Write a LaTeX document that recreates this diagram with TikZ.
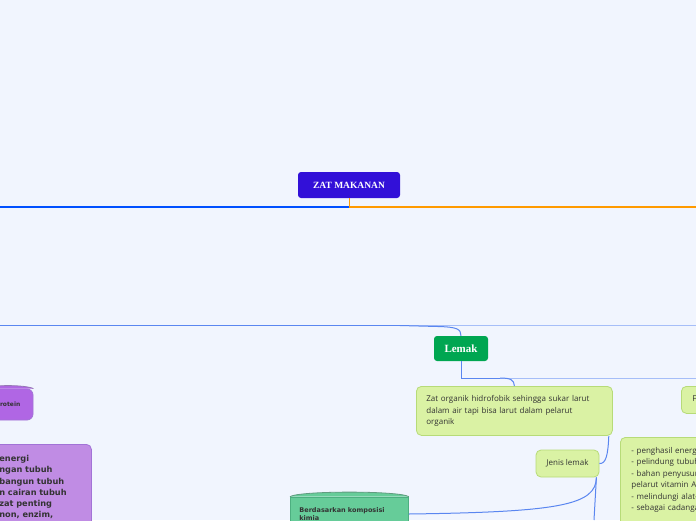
\documentclass[tikz,border=0pt]{standalone}
\usepackage{fontspec}
\setmainfont{Liberation Serif}
\newfontfamily\bodyfont{Open Sans}
\newfontfamily\boldfont{DejaVu Sans}
\definecolor{bgcol}{HTML}{F1F5FE}
\definecolor{titlecol}{HTML}{3210D8}
\definecolor{lemakcol}{HTML}{00A651}
\definecolor{leaffill}{HTML}{DAF2A4}
\definecolor{leafline}{HTML}{B7DB78}
\definecolor{protfill}{HTML}{B066E4}
\definecolor{protbox}{HTML}{C08CE4}
\definecolor{protline}{HTML}{A273D6}
\definecolor{kompfill}{HTML}{66CC99}
\definecolor{kompline}{HTML}{4DAF80}
\definecolor{mainblue}{HTML}{0050FF}
\definecolor{mainorange}{HTML}{FF9A00}
\definecolor{linkblue}{HTML}{5A86F0}
\definecolor{linkpale}{HTML}{A6BEF8}
\definecolor{textdark}{HTML}{333333}
\tikzset{
  topic/.style={rounded corners=3pt, text=white, font=\bfseries},
  leaf/.style={draw=leafline, fill=leaffill, rounded corners=5pt, line width=0.8pt,
    text=textdark, font=\bodyfont\fontsize{8}{11.6}\selectfont},
  link/.style={draw=linkblue, line width=1pt},
  palelink/.style={draw=linkpale, line width=1pt}
}
\begin{document}
\begin{tikzpicture}[x=1pt, y=-1pt]
  % Canvas
  \useasboundingbox (0,0) rectangle (696,520);
  \fill[bgcol] (0,0) rectangle (696,520);
  \clip (0,0) rectangle (696,520);
  % Central topic
  \node[topic, fill=titlecol, minimum width=102pt, minimum height=26pt,
    font=\bfseries\fontsize{9.5}{11}\selectfont] (zat) at (349,185) {ZAT MAKANAN};
  \coordinate (lft) at (0,207);
  \coordinate (rgt) at (696,207);
  \draw[mainblue, line width=1.2pt] (lft) -- (zat.south |- lft);
  \draw[mainorange, line width=1.2pt] (zat.south |- lft) -- (rgt);
  \draw[mainorange, line width=1pt] (zat.south) -- (zat.south |- lft);
  % Lemak
  \node[topic, fill=lemakcol, minimum width=54pt, minimum height=25pt,
    font=\bfseries\fontsize{11}{13}\selectfont] (lemak) at (461,348.5) {Lemak};
  \coordinate (lft2) at (0,325.5);
  \coordinate (rgt2) at (696,325.5);
  \draw[link] (lft2) -- (400,325.5);
  \draw[palelink] (400,325.5) -- (rgt2);
  \draw[link] (400,325.5) -- (438,326.5) .. controls (457,327) and (461,329) .. (lemak.north);
  % Lemak children
  \node[leaf, anchor=north west, minimum width=196pt, minimum height=49pt,
    text width=176pt, inner xsep=10pt, align=left] (def) at (416,386)
    {Zat organik hidrofobik sehingga sukar larut\\dalam air tapi bisa larut dalam pelarut\\organik};
  \node[leaf, minimum width=63pt, minimum height=27pt] (jenis) at (567.5,463.5) {Jenis lemak};
  \node[leaf, anchor=north west, minimum height=27pt, text width=60pt,
    inner xsep=11pt, align=left] (fungsi) at (681,386) {Fungsi lemak};
  \node[leaf, anchor=north west, text width=170pt, inner xsep=11pt, inner ysep=10pt,
    align=left, font=\bodyfont\fontsize{8}{11.4}\selectfont] (guna) at (620,437)
    {- penghasil energi\\- pelindung tubuh\\- bahan penyusun hormon dan\\pelarut vitamin A, D, E, K\\- melindungi alat-alat tubuh\\- sebagai cadangan makanan\\[10pt]\mbox{}};
  \coordinate (rgt3) at (696,378);
  \draw[link] (lemak.south) -- (lemak.south |- rgt3) -- (500,378);
  \draw[palelink] (500,378) -- (rgt3);
  \draw[link] (500,378) .. controls (511,378) and (514,380) .. (def.north);
  \draw[link] (jenis.east) .. controls (606,464) and (608,455) .. ([xshift=-4pt]def.south east);
  % Jenis lemak children
  \node[draw=kompline, fill=kompfill, line width=0.8pt, anchor=west, minimum width=114pt,
    minimum height=34pt, text width=100pt, inner xsep=9pt, align=left, text=textdark,
    font=\boldfont\bfseries\fontsize{6.5}{8.5}\selectfont] (komposisi) at (290,514)
    {Berdasarkan komposisi\\kimia};
  \filldraw[draw=kompline!60!gray, fill=kompfill, line width=0.8pt]
    (komposisi.north west) .. controls +(10,-6) and +(-10,-6) .. (komposisi.north east);
  \coordinate (bawah) at (594,520);
  \draw[link] ([xshift=-3pt]jenis.south east) -- (bawah);
  \draw[link] (komposisi.east) .. controls (560,512) and (596,505) .. ([xshift=-3pt]jenis.south east);
  % Protein (cut at the left)
  \node[draw=protline, fill=protfill, line width=0.8pt, rounded corners=6pt,
    minimum width=50pt, minimum height=31pt, text=textdark,
    font=\boldfont\bfseries\fontsize{6}{7}\selectfont] (protein) at (8,404.5) {Protein};
  \filldraw[draw=protline!60!gray, fill=protfill, line width=0.8pt]
    (protein.north west) .. controls +(8,-4) and +(-8,-4) .. (protein.north east);
  \node[draw=protline, fill=protbox, line width=0.8pt, rounded corners=5pt,
    anchor=north west, text width=82pt, inner xsep=10pt, inner ysep=11pt,
    align=left, text=textdark,
    font=\boldfont\bfseries\fontsize{8.2}{11.2}\selectfont] (fungsiprot) at (-11,444)
    {energi\\ngan tubuh\\bangun tubuh\\n cairan tubuh\\zat penting\\non, enzim,\\[10pt]\mbox{}};
\end{tikzpicture}
\end{document}
